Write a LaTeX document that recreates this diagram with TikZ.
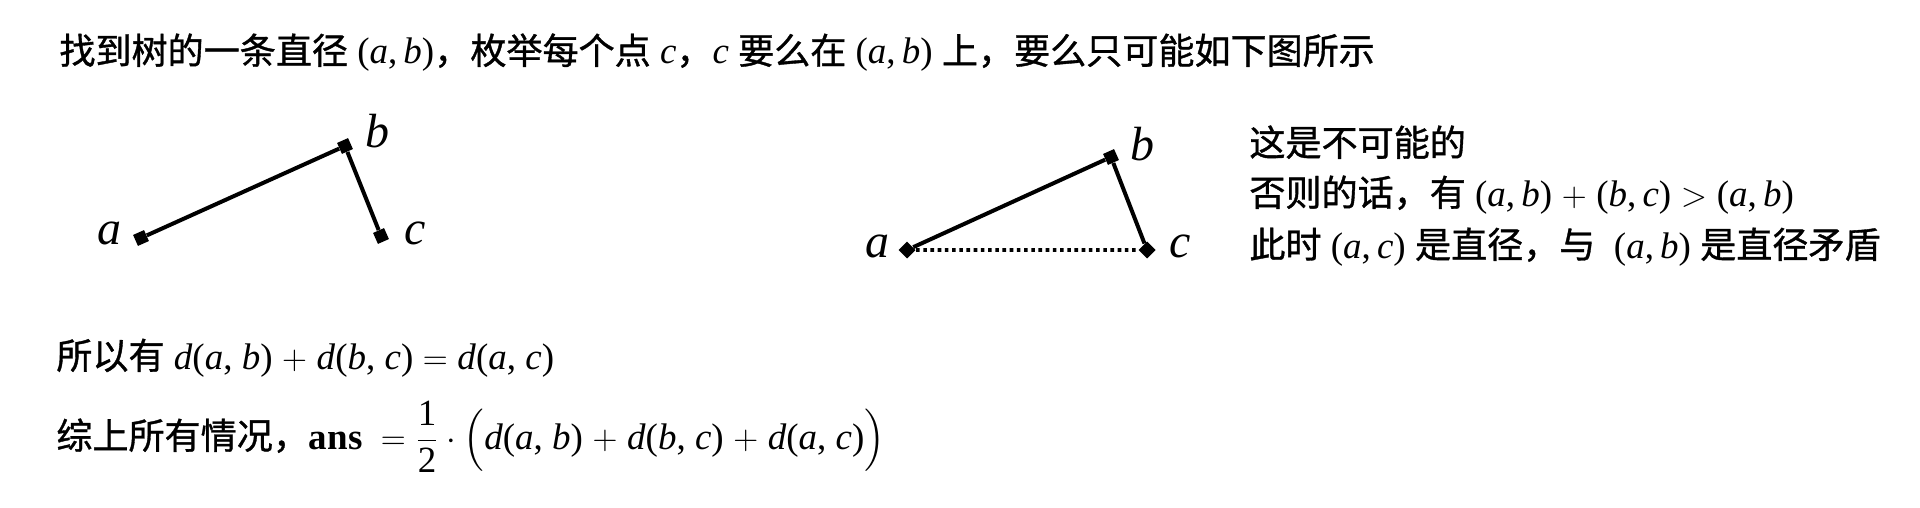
\documentclass[tikz,border=0pt]{standalone}
\usepackage{amsmath}
\usepackage{fontspec}
\setmainfont{Liberation Serif}
\newfontfamily\cjk{Noto Sans CJK SC}[Scale=0.975,FakeBold=1]
\usetikzlibrary{shapes.geometric}

\tikzset{
  pt/.style={rectangle, fill=black, inner sep=0pt, minimum size=6pt, rotate=24},
  edge/.style={line width=2pt},
  dotedge/.style={line width=1.9pt, dash pattern=on 1.8pt off 1.8pt},
  lbl/.style={anchor=base, inner sep=0pt, font=\fontsize{24}{28}\selectfont\itshape},
  txt/.style={anchor=base west, inner sep=0pt, font=\fontsize{18.5}{22}\selectfont},
}
\newcommand{\zh}[1]{{\cjk #1}}
\newcommand{\iv}[1]{\textit{#1}}

\begin{document}
\begin{tikzpicture}[x=0.5pt,y=0.5pt,yscale=-1,xscale=1]
\useasboundingbox (0,0) rectangle (1920,508);

% Text Node
\node[txt] (title) at (59,64) {\zh{找到树的一条直径}~(\iv{a},\,\iv{b})\zh{，枚举每个点}~\iv{c}\zh{，}\iv{c}~\zh{要么在}~(\iv{a},\,\iv{b})~\zh{上，要么只可能如下图所示}};

%Shape: left tree
\node[pt] (a1) at (141,238) {};
\node[pt] (b1) at (345,146) {};
\node[pt] (c1) at (381,236) {};
\draw[edge] (a1) -- (b1) -- (c1);
\node[lbl] (la1) at (109,244) {a};
\node[lbl] (lb1) at (377,148) {b};
\node[lbl] (lc1) at (415,244) {c};

%Shape: right triangle
\node[pt, rotate=21] (a2) at (907,250) {};
\node[pt] (b2) at (1111,157) {};
\node[pt, rotate=21] (c2) at (1147,250) {};
\draw[edge] (a2) -- (b2) -- (c2);
\draw[dotedge] (a2) -- (c2);
\node[lbl] (la2) at (877,257) {a};
\node[lbl] (lb2) at (1142,160) {b};
\node[lbl] (lc2) at (1180,257) {c};

% Text Node
\node[txt] (why1) at (1249,156) {\zh{这是不可能的}};
% Text Node
\node[txt] (why2) at (1249,206) {\zh{否则的话，有}~(\iv{a},\,\iv{b})$\;+\;$(\iv{b},\,\iv{c})$\;>\;$(\iv{a},\,\iv{b})};
% Text Node
\node[txt] (why3) at (1249,258) {\zh{此时}~(\iv{a},\,\iv{c})~\zh{是直径，与}~~(\iv{a},\,\iv{b})~\zh{是直径矛盾}};

% Text Node
\node[txt] (sum1) at (56,369) {\zh{所以有}~\iv{d}(\iv{a}, \iv{b})$\;+\;$\iv{d}(\iv{b}, \iv{c})$\;=\;$\iv{d}(\iv{a}, \iv{c})};
% Text Node
\node[txt] (sum2) at (56,449) {\zh{综上所有情况，}\textbf{ans}~~$\displaystyle=\frac{\mbox{1}}{\mbox{2}}\cdot\Bigl(\mbox{\iv{d}(\iv{a}, \iv{b})$\;+\;$\iv{d}(\iv{b}, \iv{c})$\;+\;$\iv{d}(\iv{a}, \iv{c})}\Bigr)$};

\end{tikzpicture}
\end{document}
